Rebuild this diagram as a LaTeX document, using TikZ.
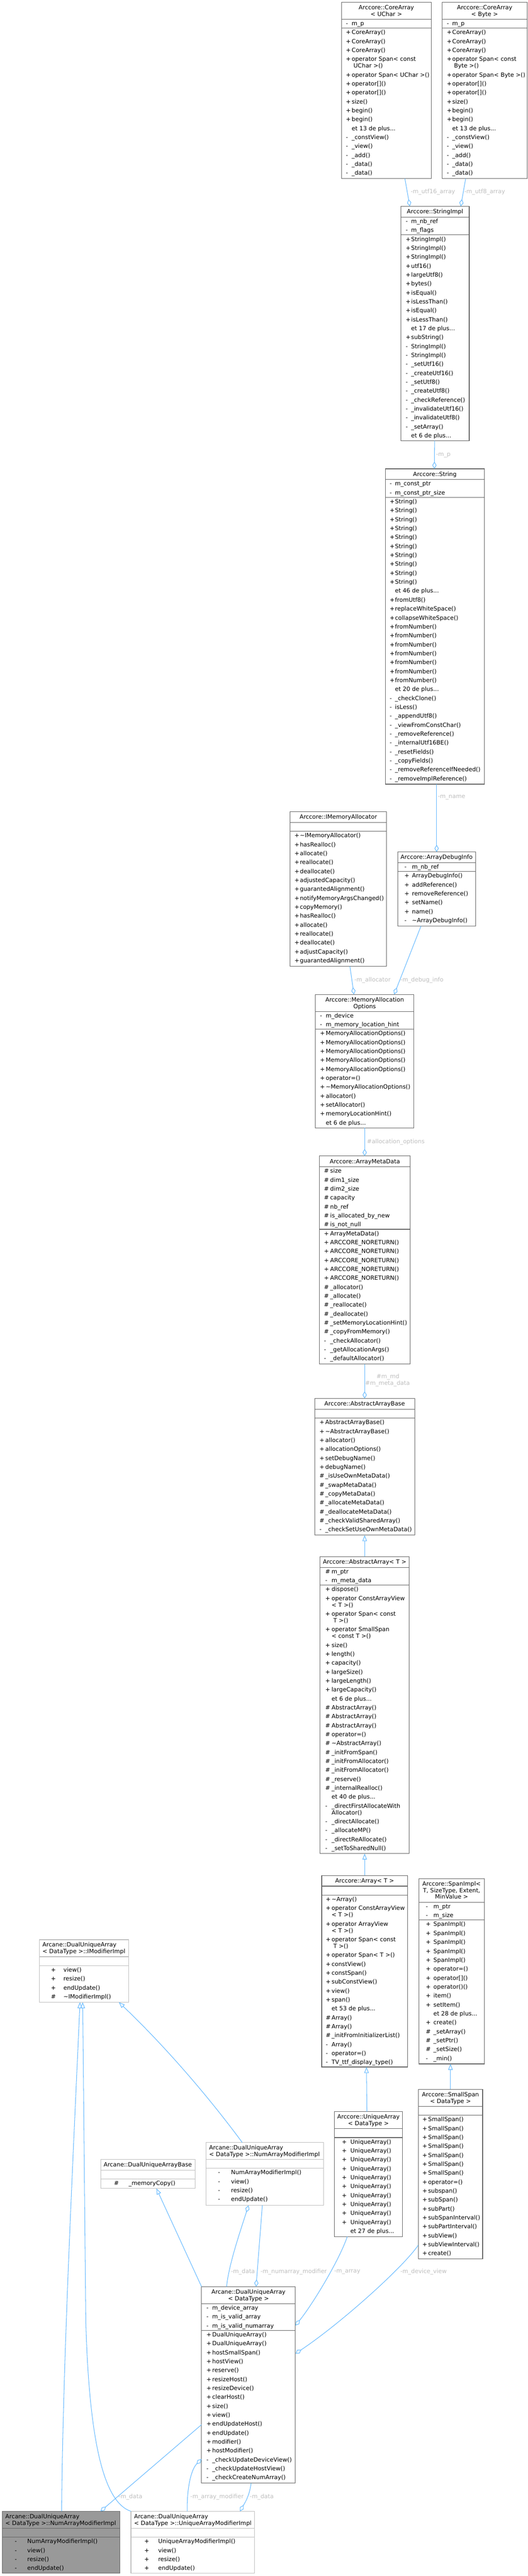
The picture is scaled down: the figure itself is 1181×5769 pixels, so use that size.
\documentclass[tikz,border=0pt]{standalone}
\usepackage{fontspec}
\setmainfont{DejaVu Sans}
\usetikzlibrary{calc,arrows.meta}
\definecolor{edgeblue}{HTML}{63B8FF}
\definecolor{boxdark}{HTML}{666666}
\definecolor{boxlight}{HTML}{BFBFBF}
\definecolor{labelgray}{HTML}{BEBEBE}
\definecolor{focusgray}{HTML}{999999}
\tikzset{
  umlbox/.style={draw=boxdark, line width=1pt, fill=white, anchor=north west, inner sep=0pt, outer sep=0pt, rectangle},
  lightbox/.style={draw=boxlight},
  focusbox/.style={fill=focusgray},
  mtext/.style={font=\fontsize{9.8}{11}\selectfont, inner sep=0pt, outer sep=0pt},
  elabel/.style={mtext, text=labelgray, anchor=west},
  elabelc/.style={mtext, text=labelgray, anchor=center},
  useedge/.style={draw=edgeblue, line width=0.9pt, -{Diamond[open, length=12pt, width=7pt]}},
  inheritedge/.style={draw=edgeblue, line width=0.9pt, -{Triangle[open, length=10pt, width=7.5pt]}},
}
\newcommand\xdts{...}
\newcounter{rowc}
\newcommand\mkbox[6][]{\node[umlbox,#1,minimum width=#5*0.75pt,minimum height=#6*0.75pt] (#2) at (#3,#4) {};}
\newcommand\sepl[3][boxdark]{\draw[#1, line width=1pt] ($(#2.north west)+(0,#3)$) -- ($(#2.north east)+(0,#3)$);}
\newcommand\hc[3]{\node[mtext,anchor=base] (#1-h#2) at ($(#1.north)+(0,#2)$) {#3};}
\newcommand\hl[4]{\node[mtext,anchor=base west] (#1-h#3) at ($(#1.north west)+(#2,#3)$) {#4};}
\newcommand\mrows[5]{%
  \gdef\ry{#4}%
  \foreach \sg/\tx in {#5}{%
    \stepcounter{rowc}%
    \ifnum\strcmp{\sg}{c}=0
      \node[mtext,anchor=base west] (t\arabic{rowc}) at ($(#1.north west)+(#3,\ry+9)$) {\tx};
      \pgfmathsetmacro\tmpy{\ry+15}\global\let\ry\tmpy
    \else
      \node[mtext,anchor=base west] (s\arabic{rowc}) at ($(#1.north west)+(#2,\ry+14)$) {\sg};
      \node[mtext,anchor=base west] (t\arabic{rowc}) at ($(#1.north west)+(#3,\ry+14)$) {\tx};
      \pgfmathsetmacro\tmpy{\ry+20}\global\let\ry\tmpy
    \fi
  }%
}
\begin{document}
\begin{tikzpicture}[x=0.75pt,y=-0.75pt]
\useasboundingbox (0,0) rectangle (1181,5769);

% CoreArray<UChar>
\mkbox{uchar}{764}{5}{201}{395}
\hc{uchar}{16}{Arccore::CoreArray}
\hc{uchar}{31}{< UChar >}
\sepl{uchar}{38}\sepl{uchar}{58}
\mrows{uchar}{10}{23}{38}{-/m\_p}
\mrows{uchar}{10}{23}{58}{+/CoreArray(),+/CoreArray(),+/CoreArray(),+/operator Span< const,c/\ UChar >(),+/operator Span< UChar >(),+/operator[](),+/operator[](),+/size(),+/begin(),+/begin(),/et 13 de plus\xdts,-/\_constView(),-/\_view(),-/\_add(),-/\_data(),-/\_data()}

% CoreArray<Byte>
\mkbox{byte}{989}{5}{191}{395}
\hc{byte}{16}{Arccore::CoreArray}
\hc{byte}{31}{< Byte >}
\sepl{byte}{38}\sepl{byte}{58}
\mrows{byte}{11}{23}{38}{-/m\_p}
\mrows{byte}{11}{23}{58}{+/CoreArray(),+/CoreArray(),+/CoreArray(),+/operator Span< const,c/\ Byte >(),+/operator Span< Byte >(),+/operator[](),+/operator[](),+/size(),+/begin(),+/begin(),/et 13 de plus\xdts,-/\_constView(),-/\_view(),-/\_add(),-/\_data(),-/\_data()}

% StringImpl
\mkbox{stringimpl}{897}{462}{153}{525}
\hc{stringimpl}{16.5}{Arccore::StringImpl}
\sepl{stringimpl}{24}\sepl{stringimpl}{64}
\mrows{stringimpl}{11}{23}{24}{-/m\_nb\_ref,-/m\_flags}
\mrows{stringimpl}{11}{23}{64}{+/StringImpl(),+/StringImpl(),+/StringImpl(),+/utf16(),+/largeUtf8(),+/bytes(),+/isEqual(),+/isLessThan(),+/isEqual(),+/isLessThan(),/et 17 de plus\xdts,+/subString(),-/StringImpl(),-/StringImpl(),-/\_setUtf16(),-/\_createUtf16(),-/\_setUtf8(),-/\_createUtf8(),-/\_checkReference(),-/\_invalidateUtf16(),-/\_invalidateUtf8(),-/\_setArray(),/et 6 de plus\xdts}

% String
\mkbox{string}{862}{1050}{222}{706}
\hc{string}{16.5}{Arccore::String}
\sepl{string}{24}\sepl{string}{64}
\mrows{string}{10}{22}{24}{-/m\_const\_ptr,-/m\_const\_ptr\_size}
\mrows{string}{10}{22}{64}{+/String(),+/String(),+/String(),+/String(),+/String(),+/String(),+/String(),+/String(),+/String(),+/String(),/et 46 de plus\xdts,+/fromUtf8(),+/replaceWhiteSpace(),+/collapseWhiteSpace(),+/fromNumber(),+/fromNumber(),+/fromNumber(),+/fromNumber(),+/fromNumber(),+/fromNumber(),+/fromNumber(),/et 20 de plus\xdts,-/\_checkClone(),-/isLess(),-/\_appendUtf8(),-/\_viewFromConstChar(),-/\_removeReference(),-/\_internalUtf16BE(),-/\_resetFields(),-/\_copyFields(),-/\_removeReferenceIfNeeded(),-/\_removeImplReference()}

% IMemoryAllocator
\mkbox{imemalloc}{649}{1818}{216}{346}
\hc{imemalloc}{16.5}{Arccore::IMemoryAllocator}
\sepl{imemalloc}{24}\sepl{imemalloc}{44}
\mrows{imemalloc}{10}{22}{44}{+/\textasciitilde IMemoryAllocator(),+/hasRealloc(),+/allocate(),+/reallocate(),+/deallocate(),+/adjustedCapacity(),+/guarantedAlignment(),+/notifyMemoryArgsChanged(),+/copyMemory(),+/hasRealloc(),+/allocate(),+/reallocate(),+/deallocate(),+/adjustCapacity(),+/guarantedAlignment()}

% ArrayDebugInfo
\mkbox{adi}{890}{1908}{174}{166}
\hc{adi}{16.5}{Arccore::ArrayDebugInfo}
\sepl{adi}{24}\sepl{adi}{44}
\mrows{adi}{15}{32}{24}{-/m\_nb\_ref}
\mrows{adi}{15}{32}{44}{+/ArrayDebugInfo(),+/addReference(),+/removeReference(),+/setName(),+/name(),-/\textasciitilde ArrayDebugInfo()}

% MemoryAllocationOptions
\mkbox{mao}{706}{2227}{220}{299}
\hc{mao}{16}{Arccore::MemoryAllocation}
\hc{mao}{31}{Options}
\sepl{mao}{38}\sepl{mao}{78}
\mrows{mao}{10}{23}{38}{-/m\_device,-/m\_memory\_location\_hint}
\mrows{mao}{10}{23}{78}{+/MemoryAllocationOptions(),+/MemoryAllocationOptions(),+/MemoryAllocationOptions(),+/MemoryAllocationOptions(),+/MemoryAllocationOptions(),+/operator=(),+/\textasciitilde MemoryAllocationOptions(),+/allocator(),+/setAllocator(),+/memoryLocationHint(),/et 6 de plus\xdts}

% ArrayMetaData
\mkbox{amd}{715}{2589}{203}{466}
\hc{amd}{16.5}{Arccore::ArrayMetaData}
\sepl{amd}{24}\sepl{amd}{164}
\mrows{amd}{10}{24}{24}{\#/size,\#/dim1\_size,\#/dim2\_size,\#/capacity,\#/nb\_ref,\#/is\_allocated\_by\_new,\#/is\_not\_null}
\mrows{amd}{10}{24}{164}{+/ArrayMetaData(),+/ARCCORE\_NORETURN(),+/ARCCORE\_NORETURN(),+/ARCCORE\_NORETURN(),+/ARCCORE\_NORETURN(),+/ARCCORE\_NORETURN(),\#/\_allocator(),\#/\_allocate(),\#/\_reallocate(),\#/\_deallocate(),\#/\_setMemoryLocationHint(),\#/\_copyFromMemory(),-/\_checkAllocator(),-/\_getAllocationArgs(),-/\_defaultAllocator()}

% AbstractArrayBase
\mkbox{aab}{704}{3132}{224}{306}
\hc{aab}{16.5}{Arccore::AbstractArrayBase}
\sepl{aab}{24}\sepl{aab}{44}
\mrows{aab}{11}{24}{44}{+/AbstractArrayBase(),+/\textasciitilde AbstractArrayBase(),+/allocator(),+/allocationOptions(),+/setDebugName(),+/debugName(),\#/\_isUseOwnMetaData(),\#/\_swapMetaData(),\#/\_copyMetaData(),\#/\_allocateMetaData(),\#/\_deallocateMetaData(),\#/\_checkValidSharedArray(),-/\_checkSetUseOwnMetaData()}

% AbstractArray<T>
\mkbox{abstractarray}{716}{3486}{200}{665}
\hc{abstractarray}{16.5}{Arccore::AbstractArray< T >}
\sepl{abstractarray}{24}\sepl{abstractarray}{64}
\mrows{abstractarray}{12}{26}{24}{\#/m\_ptr,-/m\_meta\_data}
\mrows{abstractarray}{12}{26}{64}{+/dispose(),+/operator ConstArrayView,c/< T >(),+/operator Span< const,c/\ T >(),+/operator SmallSpan,c/< const T >(),+/size(),+/length(),+/capacity(),+/largeSize(),+/largeLength(),+/largeCapacity(),/et 6 de plus\xdts,\#/AbstractArray(),\#/AbstractArray(),\#/AbstractArray(),\#/operator=(),\#/\textasciitilde AbstractArray(),\#/\_initFromSpan(),\#/\_initFromAllocator(),\#/\_initFromAllocator(),\#/\_reserve(),\#/\_internalRealloc(),/et 40 de plus\xdts,-/\_directFirstAllocateWith,c/Allocator(),-/\_directAllocate(),-/\_allocateMP(),-/\_directReAllocate(),-/\_setToSharedNull()}

% Array<T>
\mkbox{array}{720}{4200}{192}{429}
\hc{array}{16.5}{Arccore::Array< T >}
\sepl{array}{24}\sepl{array}{44}
\mrows{array}{9}{22}{44}{+/\textasciitilde Array(),+/operator ConstArrayView,c/< T >(),+/operator ArrayView,c/< T >(),+/operator Span< const,c/\ T >(),+/operator Span< T >(),+/constView(),+/constSpan(),+/subConstView(),+/view(),+/span(),/et 53 de plus\xdts,\#/Array(),\#/Array(),\#/\_initFromInitializerList(),-/Array(),-/operator=(),-/TV\_ttf\_display\_type()}

% SpanImpl
\mkbox{spanimpl}{937}{4207}{147}{415}
\hc{spanimpl}{16.5}{Arccore::SpanImpl<}
\hc{spanimpl}{31}{T, SizeType, Extent,}
\hc{spanimpl}{45.5}{MinValue >}
\sepl{spanimpl}{53}\sepl{spanimpl}{93}
\mrows{spanimpl}{16}{33}{53}{-/m\_ptr,-/m\_size}
\mrows{spanimpl}{16}{33}{93}{+/SpanImpl(),+/SpanImpl(),+/SpanImpl(),+/SpanImpl(),+/SpanImpl(),+/operator=(),+/operator[](),+/operator()(),+/item(),+/setItem(),/et 28 de plus\xdts,+/create(),\#/\_setArray(),\#/\_setPtr(),\#/\_setSize(),-/\_min()}

% SmallSpan<DataType>
\mkbox{smallspan}{936}{4679}{144}{380}
\hc{smallspan}{16}{Arccore::SmallSpan}
\hc{smallspan}{31}{< DataType >}
\sepl{smallspan}{38}\sepl{smallspan}{58}
\mrows{smallspan}{9}{22}{58}{+/SmallSpan(),+/SmallSpan(),+/SmallSpan(),+/SmallSpan(),+/SmallSpan(),+/SmallSpan(),+/SmallSpan(),+/operator=(),+/subspan(),+/subSpan(),+/subPart(),+/subSpanInterval(),+/subPartInterval(),+/subView(),+/subViewInterval(),+/create()}

% UniqueArray<DataType>
\mkbox{uniquearray}{748}{4729}{153}{280}
\hc{uniquearray}{16}{Arccore::UniqueArray}
\hc{uniquearray}{31}{< DataType >}
\sepl{uniquearray}{38}\sepl{uniquearray}{58}
\mrows{uniquearray}{17}{36}{58}{+/UniqueArray(),+/UniqueArray(),+/UniqueArray(),+/UniqueArray(),+/UniqueArray(),+/UniqueArray(),+/UniqueArray(),+/UniqueArray(),+/UniqueArray(),+/UniqueArray(),/et 27 de plus\xdts}

% IModifierImpl
\mkbox[lightbox]{imodifier}{88}{4344}{200}{140}
\hl{imodifier}{7}{16}{Arcane::DualUniqueArray}
\hl{imodifier}{7}{31}{< DataType >::IModifierImpl}
\sepl[boxlight]{imodifier}{38}\sepl[boxlight]{imodifier}{58}
\mrows{imodifier}{26}{54}{58}{+/view(),+/resize(),+/endUpdate(),\#/\textasciitilde IModifierImpl()}

% DualUniqueArrayBase
\mkbox[lightbox]{duabase}{226}{4836}{211}{65}
\hl{duabase}{6}{16.5}{Arcane::DualUniqueArrayBase}
\sepl[boxlight]{duabase}{24}\sepl[boxlight]{duabase}{44}
\mrows{duabase}{29}{62}{44}{\#/\_memoryCopy()}

% NumArrayModifierImpl (middle)
\mkbox[lightbox]{namimid}{461}{4798}{263}{141}
\hl{namimid}{7}{16}{Arcane::DualUniqueArray}
\hl{namimid}{7}{31}{< DataType >::NumArrayModifierImpl}
\sepl[boxlight]{namimid}{38}\sepl[boxlight]{namimid}{58}
\mrows{namimid}{27}{56}{58}{-/NumArrayModifierImpl(),-/view(),-/resize(),-/endUpdate()}

% DualUniqueArray<DataType>
\mkbox{dua}{451}{5121}{210}{440}
\hc{dua}{16}{Arcane::DualUniqueArray}
\hc{dua}{31}{< DataType >}
\sepl{dua}{38}\sepl{dua}{98}
\mrows{dua}{11}{24}{38}{-/m\_device\_array,-/m\_is\_valid\_array,-/m\_is\_valid\_numarray}
\mrows{dua}{11}{24}{98}{+/DualUniqueArray(),+/DualUniqueArray(),+/hostSmallSpan(),+/hostView(),+/reserve(),+/resizeHost(),+/resizeDevice(),+/clearHost(),+/size(),+/view(),+/endUpdateHost(),+/endUpdate(),+/modifier(),+/hostModifier(),-/\_checkUpdateDeviceView(),-/\_checkUpdateHostView(),-/\_checkCreateNumArray()}

% NumArrayModifierImpl (focus, gray)
\mkbox[focusbox]{namigray}{5}{5624}{263}{139}
\hl{namigray}{7}{16}{Arcane::DualUniqueArray}
\hl{namigray}{7}{31}{< DataType >::NumArrayModifierImpl}
\sepl{namigray}{38}\sepl{namigray}{58}
\mrows{namigray}{28}{56}{58}{-/NumArrayModifierImpl(),-/view(),-/resize(),-/endUpdate()}

% UniqueArrayModifierImpl
\mkbox[lightbox]{uami}{293}{5624}{276}{139}
\hl{uami}{7}{16}{Arcane::DualUniqueArray}
\hl{uami}{7}{31}{< DataType >::UniqueArrayModifierImpl}
\sepl[boxlight]{uami}{38}\sepl[boxlight]{uami}{58}
\mrows{uami}{30}{61}{58}{+/UniqueArrayModifierImpl(),+/view(),+/resize(),+/endUpdate()}

% ---------- connectors ----------
\draw[useedge] ($(uchar.south west)+(142,0)$) -- ($(stringimpl.north west)+(20,0)$);
\node[elabel] (l1) at (919,430) {-m\_utf16\_array};
\draw[useedge] ($(byte.south west)+(53,0)$) -- ($(stringimpl.north west)+(134,0)$);
\node[elabel] (l2) at (1039,430) {-m\_utf8\_array};
\draw[useedge] ($(stringimpl.south)+(-1,0)$) -- ($(string.north)+(-1,0)$);
\node[elabel] (l3) at (976,1019) {-m\_p};
\draw[useedge] ($(string.south)+(4,0)$) -- (adi.north);
\node[elabel] (l4) at (980,1786) {-m\_name};
\draw[useedge] ($(imemalloc.south west)+(134,0)$) -- ($(mao.north west)+(86,0)$);
\node[elabel] (l5) at (793,2195) {-m\_allocator};
\draw[useedge] ($(adi.south west)+(52,0)$) -- ($(mao.north west)+(176,0)$);
\node[elabel] (l6) at (896,2195) {-m\_debug\_info};
\draw[useedge] ($(mao.south west)+(110,0)$) -- ($(amd.north west)+(101,0)$);
\node[elabel] (l7) at (821,2557) {\#allocation\_options};
\draw[useedge] ($(amd.south west)+(101,0)$) -- ($(aab.north west)+(112,0)$);
\node[elabelc] (l8a) at (868,3084) {\#m\_md};
\node[elabelc] (l8b) at (867,3099) {\#m\_meta\_data};
\draw[inheritedge] ($(abstractarray.north west)+(100,0)$) -- ($(aab.south west)+(112,0)$);
\draw[inheritedge] ($(array.north west)+(96,0)$) -- ($(abstractarray.south west)+(100,0)$);
\draw[inheritedge] ($(uniquearray.north west)+(73,0)$) -- ($(array.south west)+(100,0)$);
\draw[inheritedge] ($(smallspan.north west)+(72,0)$) -- ($(spanimpl.south west)+(71,0)$);
\draw[inheritedge] ($(namimid.north west)+(81,0)$) .. controls (470,4700) and (372,4585) .. ($(imodifier.south west)+(178,0)$);
\draw[inheritedge] ($(namigray.north west)+(133,0)$) .. controls (140,5300) and (165,4800) .. ($(imodifier.south west)+(91,0)$);
\draw[inheritedge] (uami.north west) .. controls (235,5605) and (200,5480) .. (192,5200) -- ($(imodifier.south west)+(97,0)$);
\draw[inheritedge] (dua.north west) -- ($(duabase.south west)+(124,0)$);
\draw[useedge] ($(dua.north west)+(56,0)$) .. controls (512,5070) and (540,4990) .. ($(namimid.south west)+(95,0)$);
\node[elabel] (l9) at (517,5088) {-m\_data};
\draw[useedge] ($(namimid.south west)+(126,0)$) -- ($(dua.north west)+(122,0)$);
\node[elabel] (l10) at (583,5088) {-m\_numarray\_modifier};
\draw[useedge] ($(uniquearray.south west)+(29,0)$) .. controls (760,5060) and (700,5160) .. ($(dua.north east)+(0,87)$);
\node[elabel] (l11) at (748,5088) {-m\_array};
\draw[useedge] ($(smallspan.south west)+(0,-31)$) .. controls (900,5080) and (760,5205) .. ($(dua.north east)+(0,150)$);
\node[elabel] (l12) at (896,5088) {-m\_device\_view};
\draw[useedge] ($(dua.north west)+(0,309)$) -- ($(namigray.north west)+(220,0)$);
\node[elabel] (l13) at (265,5592) {-m\_data};
\draw[useedge] ($(uami.north west)+(126,0)$) .. controls (418,5570) and (428,5530) .. ($(dua.north west)+(0,386)$);
\node[elabel] (l14) at (426,5592) {-m\_array\_modifier};
\draw[useedge] ($(dua.south west)+(111,0)$) .. controls (558,5590) and (548,5605) .. ($(uami.north west)+(244,0)$);
\node[elabel] (l15) at (559,5592) {-m\_data};
\end{tikzpicture}
\end{document}
